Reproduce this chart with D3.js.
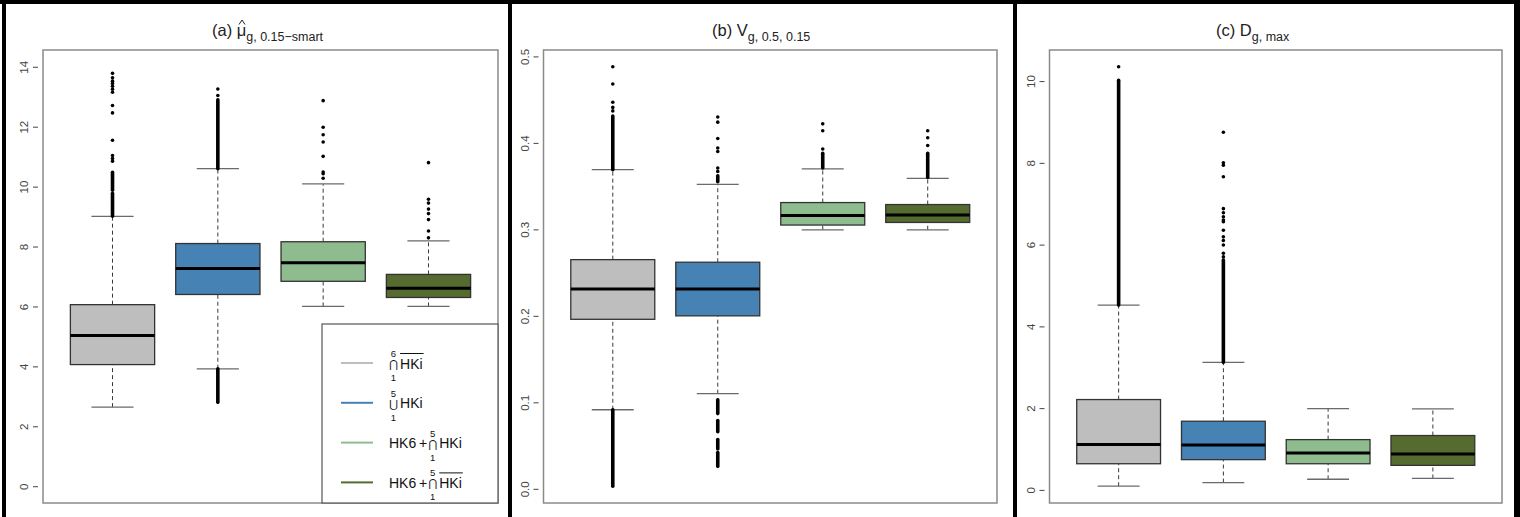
<!DOCTYPE html>
<html>
<head>
<meta charset="utf-8">
<script src="https://cdn.jsdelivr.net/npm/d3@7"></script>
<style>
  body { margin: 0; background: #fff; }
  svg { display: block; font-family: "Liberation Sans", Arial, sans-serif; }
</style>
</head>
<body>
<div id="chart"></div>
<script>
// colours of the four groups, in plotting order
const boxColors = ["#bebebe", "#4682b4", "#8fbc8f", "#556b2f"];

// legend text pieces
const legendPrefix = ["", "", "HK6\u2009+", "HK6\u2009+"];
const legendOps = ["\u22C2", "\u22C3", "\u22C2", "\u22C2"];
const legendTop = ["6", "5", "5", "5"];
const legendBottom = ["1", "1", "1", "1"];
const legendBar = [true, false, false, true];

// panel titles
const titleLetters = ["(a) ", "(b) ", "(c) "];
const titleSymbols = ["\u03BC", "V", "D"];
const titleSubs = ["g, 0.15\u2212smart", "g, 0.5, 0.15", "g, max"];

// (a) box stats: [lower whisker, q1, median, q3, upper whisker]
const statsA = [
  [2.64, 4.06, 5.03, 6.06, 9.01],
  [3.92, 6.40, 7.27, 8.10, 10.60],
  [6.00, 6.84, 7.46, 8.16, 10.09],
  [6.00, 6.30, 6.61, 7.07, 8.19]
];
// single outliers
const dotsA = [
  [13.78, 13.63, 13.52, 13.44, 13.35, 13.25, 13.15, 12.71, 12.46, 11.55, 11.04, 10.94, 10.85],
  [13.26, 13.04],
  [12.87, 11.98, 11.73, 11.49, 11.01, 10.49, 10.43, 10.28],
  [10.80, 9.58, 9.45, 9.25, 9.10, 8.90, 8.52, 8.29]
];
// dense outlier runs [from, to]
const runsA = [
  [[9.01, 9.78], [9.88, 10.48]],
  [[10.60, 12.90], [2.80, 3.92]],
  [],
  []
];
const ticksA = [0, 2, 4, 6, 8, 10, 12, 14];

// (b)
const statsB = [
  [0.0914, 0.196, 0.231, 0.265, 0.369],
  [0.110, 0.200, 0.231, 0.262, 0.352],
  [0.2995, 0.305, 0.316, 0.331, 0.370],
  [0.2995, 0.308, 0.3165, 0.3287, 0.359]
];
const dotsB = [
  [0.488, 0.468, 0.447, 0.441, 0.437],
  [0.430, 0.424, 0.405, 0.394, 0.390, 0.371, 0.367],
  [0.422, 0.414, 0.393],
  [0.414, 0.406, 0.397]
];
const runsB = [
  [[0.369, 0.431], [0.003, 0.0914]],
  [[0.355, 0.362], [0.087, 0.103], [0.066, 0.079], [0.046, 0.057], [0.026, 0.042]],
  [[0.371, 0.388]],
  [[0.360, 0.388]]
];
const ticksB = [0, 0.1, 0.2, 0.3, 0.4, 0.5];

// (c)
const statsC = [
  [0.09, 0.64, 1.11, 2.21, 4.52],
  [0.18, 0.74, 1.10, 1.68, 3.12],
  [0.26, 0.64, 0.90, 1.23, 1.99],
  [0.28, 0.60, 0.88, 1.33, 1.98]
];
const dotsC = [
  [10.35],
  [8.75, 8.00, 7.94, 7.66, 6.88, 6.78, 6.68, 6.60, 6.56, 6.35, 6.19, 6.10, 5.99, 5.79, 5.70],
  [],
  []
];
const runsC = [
  [[4.52, 10.02]],
  [[3.12, 5.62]],
  [],
  []
];
const ticksC = [0, 2, 4, 6, 8, 10];

// data range of a panel (used when no fixed ylim)
const dataRange = (stats, dots, runs) =>
  d3.extent([...stats.flat(), ...dots.flat(), ...runs.flat(2)]);

const panels = [
  { stats: statsA, dots: dotsA, runs: runsA, ticks: ticksA, fmt: d3.format("d"),
    ylim: [0, 14], left: 43, right: 498, titleX: 212 },
  { stats: statsB, dots: dotsB, runs: runsB, ticks: ticksB, fmt: d3.format(".1f"),
    ylim: dataRange(statsB, dotsB, runsB), left: 543.5, right: 997, titleX: 712 },
  { stats: statsC, dots: dotsC, runs: runsC, ticks: ticksC, fmt: d3.format("d"),
    ylim: dataRange(statsC, dotsC, runsC), left: 1049.5, right: 1502, titleX: 1216 }
];

const plotTop = 50, plotBottom = 503;

const svg = d3
  .select("#chart")
  .append("svg")
  .attr("width", 1520)
  .attr("height", 517);

svg.append("rect").attr("width", 1520).attr("height", 517).attr("fill", "#fff");

const drawPanel = (p, k) => {
  const g = svg.append("g");

  // scales like R: xlim 0.5..n+0.5 and 4% padding on both axes
  const x = d3.scaleLinear().domain([0.34, 4.66]).range([p.left, p.right]);
  const pad = 0.04 * (p.ylim[1] - p.ylim[0]);
  const y = d3
    .scaleLinear()
    .domain([p.ylim[0] - pad, p.ylim[1] + pad])
    .range([plotBottom, plotTop]);

  const boxes = p.stats.map((s, i) => ({
    pos: i + 1, lo: s[0], q1: s[1], med: s[2], q3: s[3], hi: s[4], color: boxColors[i]
  }));

  // dashed whiskers
  g.selectAll(".whisker")
    .data(boxes.flatMap((d) => [[d.pos, d.lo, d.q1], [d.pos, d.q3, d.hi]]))
    .join("line")
    .attr("x1", (d) => x(d[0]))
    .attr("x2", (d) => x(d[0]))
    .attr("y1", (d) => y(d[1]))
    .attr("y2", (d) => y(d[2]))
    .attr("stroke", "#3a3a3a")
    .attr("stroke-width", 1)
    .attr("stroke-dasharray", "4,3");

  // staples
  g.selectAll(".staple")
    .data(boxes.flatMap((d) => [[d.pos, d.lo], [d.pos, d.hi]]))
    .join("line")
    .attr("x1", (d) => x(d[0] - 0.2))
    .attr("x2", (d) => x(d[0] + 0.2))
    .attr("y1", (d) => y(d[1]))
    .attr("y2", (d) => y(d[1]))
    .attr("stroke", "#6a6a6a")
    .attr("stroke-width", 1.3);

  // boxes
  g.selectAll(".box")
    .data(boxes)
    .join("rect")
    .attr("x", (d) => x(d.pos - 0.4))
    .attr("width", (d) => x(d.pos + 0.4) - x(d.pos - 0.4))
    .attr("y", (d) => y(d.q3))
    .attr("height", (d) => y(d.q1) - y(d.q3))
    .attr("fill", (d) => d.color)
    .attr("stroke", "#333")
    .attr("stroke-width", 1.3);

  // medians
  g.selectAll(".median")
    .data(boxes)
    .join("line")
    .attr("x1", (d) => x(d.pos - 0.4))
    .attr("x2", (d) => x(d.pos + 0.4))
    .attr("y1", (d) => y(d.med))
    .attr("y2", (d) => y(d.med))
    .attr("stroke", "#000")
    .attr("stroke-width", 3);

  // dense outlier runs
  g.selectAll(".run")
    .data(p.runs.flatMap((r, i) => r.map((v) => [i + 1, v[0], v[1]])))
    .join("line")
    .attr("x1", (d) => x(d[0]))
    .attr("x2", (d) => x(d[0]))
    .attr("y1", (d) => y(d[1]))
    .attr("y2", (d) => y(d[2]))
    .attr("stroke", "#000")
    .attr("stroke-width", 3.6)
    .attr("stroke-linecap", "round");

  // single outliers
  g.selectAll(".dot")
    .data(p.dots.flatMap((r, i) => r.map((v) => [i + 1, v])))
    .join("circle")
    .attr("cx", (d) => x(d[0]))
    .attr("cy", (d) => y(d[1]))
    .attr("r", 1.8)
    .attr("fill", "#000");

  // y axis, labels parallel to the axis as in R
  const axis = g
    .append("g")
    .attr("transform", `translate(${p.left - 5},0)`)
    .call(d3.axisLeft(y).tickValues(p.ticks).tickFormat(p.fmt).tickSize(5));
  axis.select(".domain").remove();
  axis.selectAll(".tick line").attr("stroke", "#444");
  axis
    .selectAll(".tick text")
    .attr("x", null)
    .attr("dy", "0.35em")
    .attr("text-anchor", "middle")
    .attr("transform", "translate(-14,0) rotate(-90)")
    .attr("fill", "#444")
    .style("font-size", "11.5px")
    .style("font-family", "'Liberation Sans', Arial, sans-serif");

  // plot frame
  g.append("rect")
    .attr("x", p.left)
    .attr("y", plotTop)
    .attr("width", p.right - p.left)
    .attr("height", plotBottom - plotTop)
    .attr("fill", "none")
    .attr("stroke", "#8a8a8a")
    .attr("stroke-width", 1.5);

  // title
  const title = g
    .append("text")
    .attr("x", p.titleX)
    .attr("y", 36)
    .attr("fill", "#222")
    .style("font-size", "16.5px");
  const lead = title.append("tspan").text(titleLetters[k]);
  const sym = title.append("tspan").text(titleSymbols[k]);
  title
    .append("tspan")
    .attr("dy", 5)
    .style("font-size", "12.5px")
    .text(titleSubs[k]);

  // hat over mu
  if (k === 0) {
    const muX = p.titleX + lead.node().getComputedTextLength()
      + sym.node().getComputedTextLength() / 2 + 0.5;
    g.append("path")
      .attr("d", d3.line()([[muX - 3, 24.5], [muX, 20], [muX + 3, 24.5]]))
      .attr("fill", "none")
      .attr("stroke", "#222")
      .attr("stroke-width", 1);
  }

  return { x, y, g };
};

const drawn = panels.map(drawPanel);

// legend in panel (a)
const lg = drawn[0].g.append("g");
lg.append("rect")
  .attr("x", 322)
  .attr("y", 324)
  .attr("width", 498 - 322)
  .attr("height", plotBottom - 324)
  .attr("fill", "#fff")
  .attr("stroke", "#555")
  .attr("stroke-width", 1.2);

boxColors.forEach((c, i) => {
  const ly = 363 + i * 39.8;
  lg.append("line")
    .attr("x1", 341)
    .attr("x2", 373)
    .attr("y1", ly)
    .attr("y2", ly)
    .attr("stroke", c)
    .attr("stroke-width", 2);

  let cx = 389;
  if (legendPrefix[i]) {
    const pre = lg
      .append("text")
      .attr("x", cx)
      .attr("y", ly + 5.5)
      .attr("fill", "#111")
      .style("font-size", "14px")
      .text(legendPrefix[i]);
    cx += pre.node().getComputedTextLength() + 1;
  }
  const op = lg
    .append("text")
    .attr("x", cx)
    .attr("y", ly + 5)
    .attr("fill", "#111")
    .style("font-family", "'DejaVu Sans', sans-serif")
    .style("font-size", "11px")
    .text(legendOps[i]);
  const opW = op.node().getComputedTextLength();
  lg.append("text")
    .attr("x", cx + opW / 2)
    .attr("y", ly - 6)
    .attr("text-anchor", "middle")
    .attr("fill", "#111")
    .style("font-size", "9.5px")
    .text(legendTop[i]);
  lg.append("text")
    .attr("x", cx + opW / 2)
    .attr("y", ly + 18)
    .attr("text-anchor", "middle")
    .attr("fill", "#111")
    .style("font-size", "9.5px")
    .text(legendBottom[i]);
  const hx = cx + opW + 2;
  const hk = lg
    .append("text")
    .attr("x", hx)
    .attr("y", ly + 5.5)
    .attr("fill", "#111")
    .style("font-size", "14px")
    .text("HKi");
  if (legendBar[i]) {
    lg.append("line")
      .attr("x1", hx)
      .attr("x2", hx + hk.node().getComputedTextLength() + 1)
      .attr("y1", ly - 9.5)
      .attr("y2", ly - 9.5)
      .attr("stroke", "#111")
      .attr("stroke-width", 1);
  }
});

// black frame and separators of the three panels
const frame = [[0, 0, 1520, 4], [2, 0, 4, 517], [508, 0, 4, 517], [1013, 0, 4, 517], [1514, 0, 6, 517]];
svg.selectAll(".frame")
  .data(frame)
  .join("rect")
  .attr("x", (d) => d[0])
  .attr("y", (d) => d[1])
  .attr("width", (d) => d[2])
  .attr("height", (d) => d[3])
  .attr("fill", "#000");
</script>
</body>
</html>
